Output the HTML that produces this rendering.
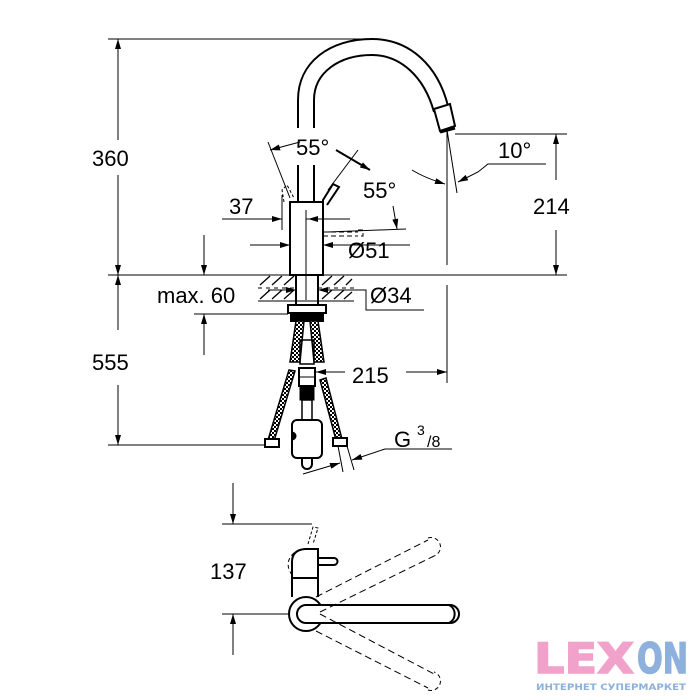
<!DOCTYPE html>
<html><head><meta charset="utf-8"><style>html,body{margin:0;padding:0;background:#fff}svg{display:block}</style></head>
<body>
<svg width="700" height="700" viewBox="0 0 700 700" xmlns="http://www.w3.org/2000/svg" font-family="Liberation Sans, sans-serif">
<defs>
<marker id="a" viewBox="0 0 10 6" refX="10" refY="3" markerWidth="14" markerHeight="6" markerUnits="userSpaceOnUse" orient="auto"><path d="M0,0L10,3L0,6z" fill="#000"/></marker>
<pattern id="br" width="4" height="4" patternUnits="userSpaceOnUse"><rect width="4" height="4" fill="#fff"/><rect width="2" height="2" fill="#000"/><rect x="2" y="2" width="2" height="2" fill="#000"/></pattern>
</defs>
<g stroke="#000" fill="none" stroke-width="1">
<line x1="108" y1="39" x2="372" y2="39"/>
<line x1="108" y1="275" x2="567" y2="275"/>
<line x1="108" y1="445" x2="270" y2="445"/>
<line x1="118" y1="140" x2="118" y2="39" marker-end="url(#a)"/>
<line x1="118" y1="175" x2="118" y2="275" marker-end="url(#a)"/>
<line x1="118" y1="330" x2="118" y2="275" marker-end="url(#a)"/>
<line x1="118" y1="385" x2="118" y2="445" marker-end="url(#a)"/>
<path stroke-width="2" d="M298,128 L298,100 C298,62 330,39 372,39 C410,39 438,66 448,106"/>
<path stroke-width="2" d="M314,128 L314,100 C314,72 340,55 372,55 C400,55 424,76 434,112"/>
<path stroke-width="2" fill="#fff" d="M434,109 L450,104 L455,126 L440,131 Z"/>
<path stroke-width="3" d="M440,132 L455,128"/>
<line x1="298" y1="165" x2="298" y2="202" stroke-width="2"/>
<line x1="314" y1="165" x2="314" y2="202" stroke-width="2"/>
<rect x="290" y="202" width="33" height="73" stroke-width="2" fill="#fff"/>
<line x1="306" y1="210" x2="306" y2="300"/>
<path stroke-width="2" d="M323,212 L323,200 L333,184 L339,187 L327,205"/>
<path stroke-dasharray="3 2" d="M284,202 L282,190 L287,185 L294,198"/>
<line x1="268" y1="142" x2="290" y2="198"/>
<line x1="358" y1="150" x2="328" y2="190"/>
<line x1="300" y1="142" x2="270" y2="150" marker-end="url(#a)"/>
<line x1="336" y1="150" x2="370" y2="170" marker-end="url(#a)" stroke-width="2"/>
<line x1="393" y1="206" x2="397" y2="229" marker-end="url(#a)"/>
<line x1="328" y1="232" x2="406" y2="229"/>
<path stroke-dasharray="5 3" d="M323,232 H358 M323,236 H358 M358,230 h5 v6 h-5"/>
<line x1="222" y1="219" x2="282" y2="219" marker-end="url(#a)"/>
<line x1="282" y1="195" x2="282" y2="230"/>
<line x1="350" y1="219" x2="308" y2="219" marker-end="url(#a)"/>
<line x1="306" y1="219" x2="345" y2="219"/>
<line x1="250" y1="245" x2="290" y2="245" marker-end="url(#a)"/>
<line x1="410" y1="245" x2="323" y2="245" marker-end="url(#a)"/>
<line x1="455" y1="134" x2="567" y2="134"/>
<line x1="447" y1="130" x2="447" y2="265"/>
<line x1="447" y1="130" x2="457" y2="193"/>
<path d="M412,170 Q425,178 445,184" marker-end="url(#a)"/>
<path d="M546,164 H488 L478,172 L458,182" marker-end="url(#a)"/>
<line x1="556" y1="180" x2="556" y2="134" marker-end="url(#a)"/>
<line x1="556" y1="230" x2="556" y2="275" marker-end="url(#a)"/>
<!-- countertop hatching -->
<path stroke-width="1.3" d="M260,285 L270,276 M272,285 L282,276 M284,285 L294,276 M322,285 L332,276 M334,285 L344,276 M346,285 L352,279
M260,299 L270,290 M272,299 L282,290 M284,299 L294,290 M322,299 L332,290 M334,299 L344,290 M344,299 L352,292"/>
<line x1="258" y1="301" x2="354" y2="301"/>
<line x1="258" y1="288" x2="296" y2="288" stroke-dasharray="4 4"/>
<line x1="318" y1="288" x2="354" y2="288" stroke-dasharray="4 4"/>
<rect x="296" y="275" width="22" height="30" stroke-width="2" fill="none"/>
<line x1="204" y1="235" x2="204" y2="275" marker-end="url(#a)"/>
<line x1="204" y1="355" x2="204" y2="314" marker-end="url(#a)"/>
<line x1="194" y1="314" x2="288" y2="314"/>
<line x1="268" y1="290" x2="296" y2="290" marker-end="url(#a)"/>
<line x1="345" y1="290" x2="318" y2="290" marker-end="url(#a)"/>
<path d="M345,290 H366 V310 H424"/>
<rect x="288" y="305" width="38" height="8" stroke-width="2"/>
<rect x="291" y="313" width="32" height="8" stroke-width="2" fill="#000"/>
<path d="M296,321 L290,362 L300,362 L304,321 Z" fill="url(#br)" stroke-width="1.5"/>
<path d="M318,321 L324,362 L314,362 L310,321 Z" fill="url(#br)" stroke-width="1.5"/>
<rect x="300" y="340" width="14" height="24" stroke-width="1.5"/>
<rect x="299" y="368" width="16" height="18" stroke-width="2"/>
<line x1="299" y1="377" x2="315" y2="377"/>
<rect x="300" y="386" width="14" height="14" fill="#000"/>
<rect x="302" y="400" width="10" height="20" stroke-width="1.5"/>
<rect x="292" y="420" width="30" height="38" rx="5" stroke-width="2" fill="#fff"/>
<path d="M292,432 a4,4 0 0 1 0,8" fill="#000"/>
<path d="M302,458 v6 a5,5 0 0 0 10,0 v-6" stroke-width="2"/>
<path d="M289,370 L268,440 L274,441 L295,371 Z" fill="url(#br)" stroke-width="1.5"/>
<path d="M320,380 L336,440 L342,439 L326,378 Z" fill="url(#br)" stroke-width="1.5"/>
<rect x="265" y="439" width="14" height="8" stroke-width="2" fill="#fff"/>
<rect x="333" y="438" width="14" height="8" stroke-width="2" fill="#fff"/>
<line x1="338" y1="446" x2="343" y2="472"/>
<line x1="347" y1="446" x2="354" y2="470"/>
<line x1="345" y1="372" x2="316" y2="372" marker-end="url(#a)"/>
<line x1="406" y1="372" x2="447" y2="372" marker-end="url(#a)"/>
<line x1="447" y1="285" x2="447" y2="383"/>
<path d="M452,449 H385 L352,460" marker-end="url(#a)"/>
<line x1="303" y1="474" x2="340" y2="463" marker-end="url(#a)"/>
<line x1="233" y1="483" x2="233" y2="524" marker-end="url(#a)"/>
<line x1="222" y1="524" x2="312" y2="524"/>
<line x1="222" y1="614" x2="292" y2="614"/>
<line x1="233" y1="655" x2="233" y2="614" marker-end="url(#a)"/>
<path stroke-dasharray="3 2" d="M308,544 L313,527 L318,528 L313,544"/>
<path stroke-width="2" d="M292,597 L292,562 Q292,550 305,549 L318,549 L318,597"/>
<path stroke-dasharray="4 3" d="M292,575 Q283,562 295,552"/>
<path stroke-width="2" d="M318,558 H334 a3,3 0 0 1 0,7 H318"/>
<line x1="292" y1="578" x2="318" y2="578" stroke-width="2"/>
<circle cx="306" cy="614" r="17" stroke-width="2" fill="#fff"/>
<path stroke-width="2" fill="#fff" d="M306,605 H450 a9,9 0 0 1 0,18 H306 a9,9 0 0 1 0,-18 Z"/>
<path stroke-width="2" d="M449,605 a10,10 0 0 1 0,18"/>
<path stroke-dasharray="7 4" d="M316,597 L428,540 M320,612 L434,556 M316,631 L428,688 M320,614 L434,674"/>
<path stroke-dasharray="4 3" d="M428,538 a8,8 0 0 1 6,18 M428,690 a8,8 0 0 0 6,-18"/>
</g>
<g font-size="22" fill="#000">
<text x="92" y="166">360</text>
<text x="92" y="370">555</text>
<text x="296" y="155">55°</text>
<text x="363" y="198">55°</text>
<text x="498" y="158">10°</text>
<text x="533" y="214">214</text>
<text x="229" y="214">37</text>
<text x="348" y="258">Ø51</text>
<text x="157" y="303">max. 60</text>
<text x="370" y="303">Ø34</text>
<text x="352" y="383">215</text>
<text x="394" y="447">G</text>
<text x="417" y="435" font-size="14">3</text>
<text x="427" y="447" font-size="16">/8</text>
<text x="210" y="579">137</text>
</g>
<g font-family="DejaVu Sans, sans-serif" font-weight="bold">
<text x="534" y="673" font-size="42" fill="#f0a2ca" stroke="#f0a2ca" stroke-width="1.5" textLength="100" lengthAdjust="spacingAndGlyphs">LEX</text>
<text x="637" y="673" font-size="42" fill="#8eb0dc" stroke="#8eb0dc" stroke-width="1.5" textLength="51" lengthAdjust="spacingAndGlyphs">ON</text>
<text x="536" y="690" font-size="9" fill="#8eb0dc" textLength="150" lengthAdjust="spacingAndGlyphs">ИНТЕРНЕТ СУПЕРМАРКЕТ</text>
</g>
</svg>
</body></html>
